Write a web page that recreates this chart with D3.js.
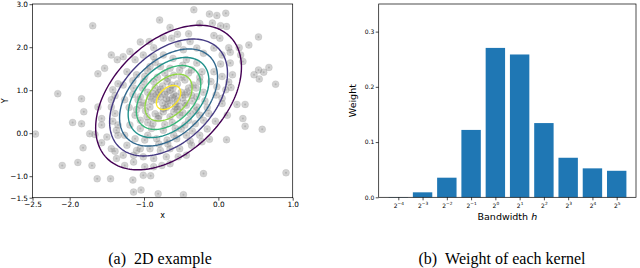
<!DOCTYPE html>
<html>
<head>
<meta charset="utf-8">
<script src="https://cdn.jsdelivr.net/npm/d3@7"></script>
<style>
  body { margin: 0; background: #fff; }
  svg { display: block; }
</style>
</head>
<body>
<svg id="chart" width="640" height="268"></svg>
<script>
// ---- data: left panel (2D example) ----
const samples = [
  [-1.69,2.50],[-0.33,2.87],[-0.12,2.77],[-0.02,2.74],[0.10,2.79],[-0.79,2.63],[-0.65,2.46],[-0.25,2.55],
  [-0.08,2.56],[0.03,2.50],[0.11,2.48],[-0.55,2.30],[-0.40,2.31],[-0.06,2.27],[0.02,2.21],[0.54,2.24],
  [0.41,2.05],[0.28,1.99],[0.14,1.99],[0.16,1.88],[0.05,1.82],[-0.06,1.98],[0.30,1.82],[0.33,1.67],
  [0.16,1.63],[0.03,1.61],[0.19,1.36],[0.05,1.32],[-0.06,1.43],[0.48,1.36],[0.54,1.47],[0.61,1.42],
  [0.68,1.53],[0.55,1.26],[0.77,1.14],[0.14,1.19],[0.17,1.06],[0.10,1.01],[-0.02,1.08],[-0.03,0.89],
  [0.05,0.81],[-0.74,2.21],[-0.63,2.21],[-1.05,2.12],[-0.93,2.13],[-0.87,1.99],[-0.54,2.07],[-0.38,2.13],
  [-0.47,1.94],[-0.29,1.98],[-0.20,1.86],[-1.19,1.90],[-1.28,1.78],[-1.12,1.71],[-1.01,1.82],[-0.87,1.78],
  [-0.74,1.82],[-0.61,1.74],[-0.43,1.71],[-0.29,1.63],[-0.92,1.55],[-0.78,1.55],[-0.65,1.51],[-0.52,1.47],
  [-0.36,1.47],[-0.22,1.43],[-1.23,1.43],[-1.10,1.36],[-0.99,1.32],[-1.28,1.12],[-1.14,1.05],[-0.87,1.20],
  [-0.69,1.20],[-0.45,1.24],[-0.34,1.12],[-0.25,1.20],[-1.05,0.85],[-0.83,0.89],[-0.69,0.97],[-0.61,1.05],
  [-0.45,0.89],[-0.29,0.85],[-1.26,0.78],
  [-1.44,1.82],[-1.36,1.71],[-1.53,1.51],[-1.62,1.38],[-2.16,0.92],[-1.84,0.80],[-1.35,1.15],[-1.42,1.01],
  [-1.39,0.87],[-1.44,0.78],[-1.81,0.50],[-1.96,0.25],[-1.84,0.22],[-2.46,-0.02],[-1.73,-0.01],[-1.66,-0.03],
  [-1.82,-0.34],[-2.10,-0.75],[-1.89,-0.68],[-1.70,-0.75],[-1.63,-1.06],[-1.45,-1.06],[-1.62,0.61],[-1.57,0.34],
  [-1.57,0.19],[-1.57,-0.22],[-1.50,-0.09],[-1.44,-0.36],[-1.39,-0.42],[-1.39,0.46],[-1.42,0.28],[-1.35,0.19],
  [-1.37,0.07],[-1.35,-0.05],[-1.37,-0.59],[-1.44,0.61],
  [-1.15,-1.09],[-1.14,-1.37],[-1.04,-1.32],[-0.81,-1.41],[-0.47,-1.43],[-0.20,-0.94],[-0.91,-0.99],[-1.01,-0.98],
  [-0.99,-0.78],[-0.87,-0.78],[-0.76,-0.75],[-0.65,-0.71],[-1.14,-0.67],[-1.26,-0.75],[-1.28,-0.51],[-1.14,-0.51],
  [-1.01,-0.55],[-0.87,-0.59],[-0.54,-0.55],[-0.43,-0.51],[-0.25,-0.05],[-0.22,-0.20],[-0.36,-0.28],[-0.52,-0.36],
  [-0.65,-0.36],[-0.78,-0.40],[-0.92,-0.36],[-1.05,-0.36],[-1.23,-0.28],[-1.26,-0.05],[-1.12,-0.13],[-0.99,-0.16],
  [-0.83,-0.13],[-0.69,-0.16],[-0.56,-0.13],[-0.43,-0.05],[-1.19,0.19],[-1.05,0.11],[-0.90,0.11],[-0.74,0.07],
  [-0.58,0.11],[-0.45,0.19],[-0.31,0.22],[-1.12,0.42],[-0.96,0.38],[-0.81,0.34],[-0.65,0.38],[-0.52,0.42],
  [-0.38,0.46],[-0.25,0.42],[-1.05,0.65],[-0.92,0.61],[-0.74,0.57],[-0.58,0.61],[-0.43,0.65],[-0.29,0.61],
  [0.25,0.67],[0.36,0.67],[0.05,0.69],[0.12,0.42],[0.33,0.34],[0.36,0.16],[0.59,0.09],[-0.04,0.28],
  [-0.13,0.46],[-0.12,-0.14],[0.11,-0.15],[0.91,-0.92],
  [-0.70,0.80],[-0.60,0.90],[-0.75,0.70],[-0.55,0.75],[-0.65,1.00],[-0.80,0.95],[-0.50,0.95],[-0.90,0.75],
  [-0.45,0.70],[-0.70,0.60],[-1.00,0.70],[-0.62,0.82],[-0.78,0.85],[-0.58,0.68],[-0.85,1.05],[-0.40,1.05],
  [-0.95,0.95],[-0.75,1.10],[-0.55,1.15],[-1.10,0.55],[-0.85,0.45],[-0.60,0.50],[-0.35,0.75],[-0.20,0.95],
  [-0.15,0.60],[-0.20,0.30],[-0.95,0.25],[-1.20,0.60],[-1.15,0.90],[-1.00,1.20],[-0.95,1.45],[-0.60,1.35],
  [-0.40,1.40],[-0.10,1.20],[-0.15,0.10],[-0.80,-0.25],[-0.60,-0.05],[-0.35,0.05],[-1.10,-0.40],[-0.70,-0.55],
  [-0.66,0.76],[-0.72,0.90],[-0.57,0.86],[-0.84,0.78],[-0.52,0.62],[-0.68,0.68],[-0.78,1.02],[-0.48,0.82],
  [-0.63,1.12],[-0.88,0.92],[-0.42,0.96],[-0.74,0.50],[-0.55,0.55],[-0.92,0.85],[-0.36,0.88],[-0.68,1.28],
  [-0.82,1.30],[-0.50,1.30],[-0.30,1.05],[-1.02,1.05],[-0.98,0.52],[-0.80,0.40],[-0.48,0.48],[-0.30,0.52],
  [-0.62,0.25],[-0.88,0.22],[-0.40,0.30],[-1.08,0.78],[-0.72,1.40],[-0.48,1.58],[-0.85,1.65],[-0.25,1.30],
  [-1.15,1.22],[-0.18,0.75],[-1.05,0.30],[-0.72,0.20],[-0.50,0.10],[-0.95,-0.05],[-0.68,-0.25],[-0.38,-0.18]
];
const gaussMean = [-0.67, 0.83];
const gaussStd = [0.49, 0.84];
const gaussRho = 0.42;
// contour levels as fraction of the peak density (outer -> inner)
const contourLevels = [0.135, 0.27, 0.405, 0.541, 0.676, 0.811, 0.946];
const xTicksA = [-2.5, -2.0, -1.0, 0.0, 1.0];
const yTicksA = [-1.5, -1.0, 0.0, 1.0, 2.0, 3.0];

// ---- data: right panel (weights) ----
const bandwidthExp = [-4, -3, -2, -1, 0, 1, 2, 3, 4, 5];
const weights = [0.0005, 0.009, 0.0355, 0.122, 0.2705, 0.2586, 0.1344, 0.0716, 0.0524, 0.048];
const weightTicks = [0.0, 0.1, 0.2, 0.3];

const svg = d3.select('#chart');
const fmt = d3.format('.1f');
const tickFont = 'DejaVu Sans, sans-serif';

// ================= left panel =================
const boxA = { left: 32.5, right: 292.7, top: 4, bottom: 197.7 };
const xA = d3.scaleLinear().domain([-2.5, 1.0]).range([boxA.left, boxA.right]);
const yA = d3.scaleLinear().domain([-1.5, 3.0]).range([boxA.bottom, boxA.bottom - 4.5 * 43]);

svg.append('clipPath').attr('id', 'clipA')
  .append('rect')
  .attr('x', boxA.left).attr('y', boxA.top)
  .attr('width', boxA.right - boxA.left).attr('height', boxA.bottom - boxA.top);

const gA = svg.append('g');
const plotA = gA.append('g').attr('clip-path', 'url(#clipA)');

// scatter points
const dots = plotA.append('g').selectAll('g')
  .data(samples)
  .enter().append('g')
  .attr('transform', d => `translate(${xA(d[0])},${yA(d[1])})`);
dots.append('circle')
  .attr('r', 3.5)
  .attr('fill', '#7a7a7a').attr('fill-opacity', 0.34)
  .attr('stroke', '#7a7a7a').attr('stroke-opacity', 0.2).attr('stroke-width', 0.6);
dots.append('circle')
  .attr('r', 1)
  .attr('fill', '#5a5a5a').attr('fill-opacity', 0.25);

// contour ellipses of the fitted gaussian (drawn over the points)
const line = d3.line().x(d => xA(d[0])).y(d => yA(d[1])).curve(d3.curveLinearClosed);
const steps = d3.range(0, 180);
contourLevels.forEach((lv, i) => {
  const r = Math.sqrt(-2 * Math.log(lv));
  const pts = steps.map(s => {
    const t = s / 180 * 2 * Math.PI;
    return [
      gaussMean[0] + r * gaussStd[0] * Math.cos(t),
      gaussMean[1] + r * gaussStd[1] * (gaussRho * Math.cos(t) + Math.sqrt(1 - gaussRho * gaussRho) * Math.sin(t))
    ];
  });
  plotA.append('path')
    .attr('d', line(pts))
    .attr('fill', 'none')
    .attr('stroke', d3.interpolateViridis(i / (contourLevels.length - 1)))
    .attr('stroke-width', 1.4);
});

// axes
gA.append('g')
  .attr('transform', `translate(0,${boxA.bottom})`)
  .call(d3.axisBottom(xA).tickValues(xTicksA).tickFormat(fmt).tickSize(3).tickPadding(1.5))
  .call(g => g.select('.domain').remove());
gA.append('g')
  .attr('transform', `translate(${boxA.left},0)`)
  .call(d3.axisLeft(yA).tickValues(yTicksA).tickFormat(fmt).tickSize(3).tickPadding(1.5))
  .call(g => g.select('.domain').remove());
gA.selectAll('.tick text').attr('font-family', tickFont).attr('font-size', 7.3).attr('fill', '#000');
gA.selectAll('.tick line').attr('stroke', '#000').attr('stroke-width', 0.7);

gA.append('rect')
  .attr('x', boxA.left).attr('y', boxA.top)
  .attr('width', boxA.right - boxA.left).attr('height', boxA.bottom - boxA.top)
  .attr('fill', 'none').attr('stroke', '#000').attr('stroke-width', 0.7);

gA.append('text')
  .attr('x', (boxA.left + boxA.right) / 2).attr('y', 218)
  .attr('text-anchor', 'middle')
  .attr('font-family', tickFont).attr('font-size', 8)
  .text('x');
gA.append('text')
  .attr('transform', `translate(7.5,${(boxA.top + boxA.bottom) / 2}) rotate(-90)`)
  .attr('text-anchor', 'middle')
  .attr('font-family', tickFont).attr('font-size', 8)
  .text('Y');

// ================= right panel =================
const boxB = { left: 378.7, right: 636, top: 4, bottom: 197.3 };
const xB = d3.scaleLinear().domain([0, bandwidthExp.length - 1]).range([398.3, 616.7]);
const yB = d3.scaleLinear().domain([0, 0.35]).range([boxB.bottom, boxB.top]);
const barW = 0.8 * (xB(1) - xB(0));

const gB = svg.append('g');
gB.selectAll('.bar')
  .data(weights)
  .enter().append('rect')
  .attr('class', 'bar')
  .attr('x', (d, i) => xB(i) - barW / 2)
  .attr('y', d => yB(d))
  .attr('width', barW)
  .attr('height', d => yB(0) - yB(d))
  .attr('fill', '#1f77b4');

gB.append('g')
  .attr('transform', `translate(${boxB.left},0)`)
  .call(d3.axisLeft(yB).tickValues(weightTicks).tickFormat(fmt).tickSize(3).tickPadding(1.5))
  .call(g => g.select('.domain').remove())
  .call(g => g.selectAll('.tick text').attr('font-family', tickFont).attr('font-size', 6).attr('fill', '#000'));

const xAxisB = gB.append('g')
  .attr('transform', `translate(0,${boxB.bottom})`)
  .call(d3.axisBottom(xB).tickValues(d3.range(bandwidthExp.length)).tickFormat('').tickSize(3))
  .call(g => g.select('.domain').remove());
xAxisB.selectAll('.tick').each(function(d, i) {
  const t = d3.select(this).append('text')
    .attr('y', 10.5)
    .attr('text-anchor', 'middle')
    .attr('font-family', tickFont).attr('font-size', 6).attr('fill', '#000');
  t.append('tspan').text('2');
  t.append('tspan').attr('dy', -2.6).attr('font-size', 4.3)
    .text(bandwidthExp[i] < 0 ? '\u2212' + Math.abs(bandwidthExp[i]) : String(bandwidthExp[i]));
});
gB.selectAll('.tick line').attr('stroke', '#000').attr('stroke-width', 0.7);

gB.append('rect')
  .attr('x', boxB.left).attr('y', boxB.top)
  .attr('width', boxB.right - boxB.left).attr('height', boxB.bottom - boxB.top)
  .attr('fill', 'none').attr('stroke', '#000').attr('stroke-width', 0.7);

const xlab = gB.append('text')
  .attr('x', (boxB.left + boxB.right) / 2).attr('y', 220)
  .attr('text-anchor', 'middle')
  .attr('font-family', tickFont).attr('font-size', 9.5);
xlab.append('tspan').text('Bandwidth ');
xlab.append('tspan').attr('font-style', 'italic').text('h');

gB.append('text')
  .attr('transform', `translate(356,${(boxB.top + boxB.bottom) / 2}) rotate(-90)`)
  .attr('text-anchor', 'middle')
  .attr('font-family', tickFont).attr('font-size', 9.5)
  .text('Weight');

// ================= captions =================
const captions = [
  { x: 160, text: '(a)\u00a0\u00a02D example' },
  { x: 502, text: '(b)\u00a0\u00a0Weight of each kernel' }
];
svg.selectAll('.caption')
  .data(captions)
  .enter().append('text')
  .attr('class', 'caption')
  .attr('x', d => d.x).attr('y', 264)
  .attr('text-anchor', 'middle')
  .attr('font-family', 'Liberation Serif, Times New Roman, serif')
  .attr('font-size', 16)
  .text(d => d.text);
</script>
</body>
</html>
